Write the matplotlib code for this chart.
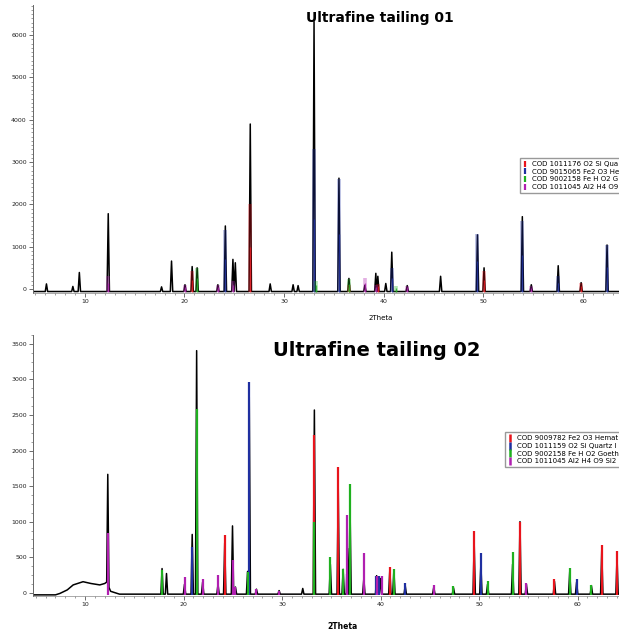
import matplotlib.pyplot as plt
from matplotlib.lines import Line2D
from matplotlib.ticker import MultipleLocator

# ---- Ultrafine tailing 01 ----
# observed pattern: peak positions (2theta) and peak counts
obs1_pos = [6.15, 8.8, 9.45, 12.35, 17.7, 18.7, 20.05, 20.77, 21.27, 23.35, 24.1,
            24.86, 25.1, 26.6, 28.6, 30.9, 31.4, 33.0, 35.5, 36.5, 38.1, 39.2, 39.4,
            40.2, 40.8, 42.35, 45.7, 49.4, 50.06, 53.9, 54.8, 57.5, 59.8, 62.4]
obs1_int = [120, 60, 390, 1780, 50, 660, 100, 530, 500, 100, 1490,
            700, 620, 3900, 120, 100, 80, 6320, 2620, 250, 90, 370, 300,
            130, 870, 80, 300, 1280, 500, 1710, 100, 550, 150, 1040]
obs1_base = -60

# legend entries as far as they show before the right edge
phase1_labels = ["COD 1011176 O2 Si Qua",
                 "COD 9015065 Fe2 O3 He",
                 "COD 9002158 Fe H O2 G",
                 "COD 1011045 Al2 H4 O9"]
# stick positions / heights for each phase (red, blue, green, magenta)
quartz1_pos = [20.77, 26.6, 36.5, 39.4, 50.06, 59.8]
quartz1_int = [420, 2000, 100, 120, 430, 130]
hematite1_pos = [24.1, 33.0, 35.5, 40.8, 49.4, 53.9, 57.5, 62.4]
hematite1_int = [1400, 3300, 2600, 500, 1300, 1600, 300, 1050]
goethite1_pos = [21.27, 33.2, 36.5, 41.2]
goethite1_int = [500, 200, 240, 60]
kaolinite1_pos = [12.35, 20.05, 23.35, 24.86, 38.1, 39.2, 42.35, 54.8]
kaolinite1_int = [300, 100, 100, 200, 260, 100, 80, 60]

# ---- Ultrafine tailing 02 ----
obs2_pos = [12.31, 17.82, 18.27, 20.1, 20.88, 21.33, 21.94, 23.5, 24.18, 24.97,
            25.27, 26.5, 26.67, 27.4, 29.7, 32.1, 33.28, 34.9, 35.7, 36.2, 36.64,
            36.9, 38.3, 39.6, 40.0, 40.94, 41.35, 42.5, 45.4, 47.4, 49.5, 50.18,
            50.86, 53.4, 54.15, 54.8, 57.65, 59.2, 59.9, 61.4, 62.45, 64.0]
obs2_int = [1665, 340, 270, 120, 820, 3405, 150, 120, 700, 940,
            80, 300, 2750, 50, 30, 60, 2570, 400, 1500, 330, 625,
            1200, 200, 240, 200, 330, 320, 100, 80, 70, 700, 400,
            120, 400, 1000, 120, 160, 300, 150, 100, 600, 500]
# broad amorphous hump and baseline (2theta, counts)
hump2_pos = [4.72, 7.0, 7.45, 8.2, 8.8, 9.8, 10.6, 11.5, 12.0, 12.2, 12.6, 13.5, 64.2]
hump2_int = [-30, -30, -10, 40, 110, 155, 130, 110, 130, 150, 20, -20, -20]

phase2_labels = ["COD 9009782 Fe2 O3 Hemat",
                 "COD 1011159 O2 Si Quartz l",
                 "COD 9002158 Fe H O2 Goeth",
                 "COD 1011045 Al2 H4 O9 Si2"]
hematite2_pos = [24.18, 33.28, 35.7, 40.94, 49.5, 54.15, 57.65, 62.45, 64.0]
hematite2_int = [810, 2220, 1770, 365, 870, 990, 190, 665, 580]
quartz2_pos = [20.88, 26.67, 36.64, 39.5, 39.8, 42.5, 50.18, 59.9]
quartz2_int = [650, 2960, 270, 240, 240, 140, 555, 190]
goethite2_pos = [17.82, 21.33, 26.5, 33.2, 34.9, 36.2, 36.9, 41.35, 47.4, 50.86,
                 53.4, 59.2, 61.4]
goethite2_int = [320, 2580, 295, 1000, 500, 330, 1530, 330, 90, 160,
                 575, 350, 110]
kaolinite2_pos = [12.31, 20.1, 21.94, 23.5, 24.97, 25.27, 27.4, 29.7, 36.64,
                  38.3, 39.6, 40.1, 45.4, 54.8]
kaolinite2_int = [835, 215, 190, 250, 460, 85, 56, 30, 1090,
                  560, 240, 240, 115, 140]

colors = ["#e8141c", "#1f2fa0", "#1fb01f", "#b01fb0"]


def trace(pos, ints, base_pos, base_int, half=0.12):
    """Merge baseline points with narrow peak shapes into one ordered trace."""
    pts = list(zip(base_pos, base_int))

    def base_at(x):
        for (x0, y0), (x1, y1) in zip(pts, pts[1:]):
            if x0 <= x <= x1:
                return y0 + (y1 - y0) * (x - x0) / (x1 - x0)
        return pts[-1][1]

    for p, h in zip(pos, ints):
        pts += [(p - half, base_at(p - half)), (p, h), (p + half, base_at(p + half))]
    pts.sort()
    return [q[0] for q in pts], [q[1] for q in pts]


def style_axes(ax, ymin, ymax, xmin, xmax, minor_y):
    ax.set_xlim(xmin, xmax)
    ax.set_ylim(ymin, ymax)
    for s in ["top", "right"]:
        ax.spines[s].set_visible(False)
    ax.spines["left"].set_color("#666666")
    ax.spines["bottom"].set_color("#888888")
    ax.spines["left"].set_linewidth(0.7)
    ax.spines["bottom"].set_linewidth(0.5)
    ax.xaxis.set_major_locator(MultipleLocator(10))
    ax.xaxis.set_minor_locator(MultipleLocator(1))
    ax.yaxis.set_minor_locator(MultipleLocator(minor_y))
    ax.tick_params(axis="both", which="major", labelsize=4.5, length=3, width=0.6,
                   color="#555555", labelcolor="#222222", pad=1.5)
    ax.tick_params(axis="both", which="minor", length=1.5, width=0.5, color="#777777")


fig = plt.figure(figsize=(6.19, 6.3), dpi=100)

# top panel
ax1 = fig.add_axes([33 / 619, 1 - 293 / 630, 1 - 33 / 619, 288 / 630])
x, y = trace(obs1_pos, obs1_int, [4.8, 63.6], [obs1_base, obs1_base])
ax1.plot(x, y, color="black", lw=1.1, zorder=2)
for c, (p, h) in zip(colors, [(quartz1_pos, quartz1_int), (hematite1_pos, hematite1_int),
                              (goethite1_pos, goethite1_int), (kaolinite1_pos, kaolinite1_int)]):
    ax1.vlines(p, obs1_base, h, color=c, lw=2.6, alpha=0.35, zorder=3)
    ax1.vlines(p, obs1_base, [v * 0.5 for v in h], color=c, lw=0.9, alpha=0.8, zorder=3)
style_axes(ax1, -95, 6714, 4.8, 63.6, 100)
ax1.set_xlabel("2Theta", fontsize=5)
ax1.xaxis.set_label_coords((381 - 33) / 586, -0.075)
ax1.text((380 - 33) / 586, 0.955, "Ultrafine tailing 01", transform=ax1.transAxes,
         ha="center", va="center", fontsize=10, fontweight="bold")
h1 = [Line2D([], [], color=c, marker="|", ls="none", ms=5, mew=1.6) for c in colors]
ax1.legend(h1, phase1_labels, loc="upper left", bbox_to_anchor=((517 - 33) / 586, 0.48),
           fontsize=5, frameon=True, fancybox=False, edgecolor="#999999",
           handlelength=0.6, handletextpad=0.6, labelspacing=0.25, borderpad=0.4,
           framealpha=1)

# bottom panel
ax2 = fig.add_axes([33 / 619, 1 - 596 / 630, 1 - 33 / 619, 261 / 630])
x, y = trace(obs2_pos, obs2_int, hump2_pos, hump2_int)
ax2.plot(x, y, color="black", lw=1.1, zorder=2)
for c, (p, h) in zip(colors, [(hematite2_pos, hematite2_int), (quartz2_pos, quartz2_int),
                              (goethite2_pos, goethite2_int), (kaolinite2_pos, kaolinite2_int)]):
    ax2.vlines(p, -30, h, color=c, lw=1.6, zorder=3)
style_axes(ax2, -46, 3625, 4.72, 64.2, 125)
ax2.set_xlabel("2Theta", fontsize=5.5, fontweight="bold")
ax2.xaxis.set_label_coords((342 - 33) / 586, -0.1)
ax2.text((377 - 33) / 586, 0.94, "Ultrafine tailing 02", transform=ax2.transAxes,
         ha="center", va="center", fontsize=14, fontweight="bold")
h2 = [Line2D([], [], color=c, marker="|", ls="none", ms=6, mew=1.8) for c in colors]
ax2.legend(h2, phase2_labels, loc="upper left", bbox_to_anchor=((502 - 33) / 586, 0.64),
           fontsize=5, frameon=True, fancybox=False, edgecolor="#999999",
           handlelength=0.6, handletextpad=0.6, labelspacing=0.25, borderpad=0.4,
           framealpha=1)

fig.savefig("out.png", dpi=100)
